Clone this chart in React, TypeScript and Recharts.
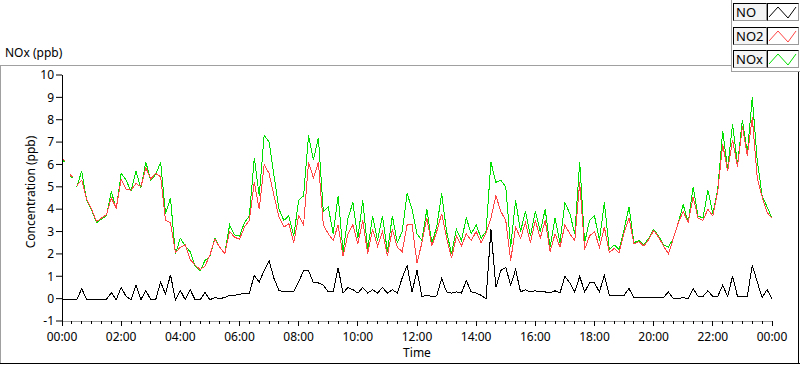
import React from "react";
import { LineChart, Line, XAxis, YAxis } from "recharts";

// time of each sample, minutes after midnight (null rows mark gaps in the record)
const minutes = [
  0, 7, 10, 16, 21, 24,
  30, 40, 50, 60, 70, 80, 90,
  100, 110, 120, 130, 140, 150, 160, 170, 180, 190,
  200, 210, 220, 230, 240, 250, 260, 270, 280, 290,
  300, 310, 320, 330, 340, 350, 360, 370, 380, 390,
  400, 410, 420, 430, 440, 450, 460, 470, 480, 490,
  500, 510, 520, 530, 540, 550, 560, 570, 580, 590,
  600, 610, 620, 630, 640, 650, 660, 670, 680, 690,
  700, 710, 720, 730, 740, 750, 760, 770, 780, 790,
  800, 810, 820, 830, 840, 850, 860, 870, 880, 890,
  900, 910, 920, 930, 940, 950, 960, 970, 980, 990,
  1000, 1010, 1020, 1030, 1040, 1050, 1060, 1070, 1080, 1090,
  1100, 1110, 1120, 1130, 1140, 1150, 1160, 1170, 1180, 1190,
  1200, 1210, 1220, 1230, 1240, 1250, 1260, 1270, 1280, 1290,
  1300, 1310, 1320, 1330, 1340, 1350, 1360, 1370, 1380, 1390,
  1400, 1410, 1420, 1430, 1440,
];

const noxValues: (number | null)[] = [
  6.2, 6.1, null, 5.5, 5.4, null,
  5.0, 5.7, 4.4, 3.95, 3.4, 3.55, 3.7,
  4.8, 4.0, 5.6, 5.3, 4.8, 5.7, 4.95, 6.1, 5.3, 5.55,
  6.1, 3.8, 4.5, 2.0, 2.7, 2.35, 2.1, 1.45, 1.25, 1.7,
  1.9, 2.7, 2.3, 2.0, 3.3, 2.85, 2.8, 3.4, 3.7, 6.3,
  4.6, 7.3, 7.0, 5.5, 4.0, 3.5, 3.7, 2.8, 4.4, 4.6,
  7.3, 6.2, 7.2, 3.9, 4.1, 2.9, 4.6, 2.1, 3.6, 4.3,
  2.7, 4.4, 2.2, 3.7, 2.6, 3.7, 2.1, 3.7, 2.5, 3.0,
  4.7, 4.0, 2.9, 2.6, 4.0, 2.5, 3.2, 4.7, 3.0, 2.0,
  3.1, 2.6, 3.6, 2.9, 3.3, 2.7, 3.0, 6.1, 5.2, 5.3,
  5.0, 2.3, 4.4, 3.0, 3.9, 2.8, 3.9, 3.0, 4.0, 2.3,
  3.6, 2.5, 4.3, 3.8, 2.9, 6.1, 2.5, 3.5, 3.7, 2.6,
  4.3, 2.2, 2.4, 2.2, 3.1, 4.1, 2.5, 2.6, 2.4, 2.7,
  3.1, 2.8, 2.4, 2.3, 2.7, 3.4, 4.2, 3.4, 5.0, 3.7,
  3.6, 4.85, 3.8, 4.9, 7.5, 5.8, 7.8, 6.0, 8.0, 6.5,
  9.0, 6.2, 4.6, 4.1, 3.6,
];

const no2Values: (number | null)[] = [
  6.25, 6.15, null, 5.55, 5.45, null,
  5.05, 5.3, 4.45, 4.0, 3.45, 3.6, 3.75,
  4.5, 4.05, 5.35, 4.9, 4.85, 5.15, 5.0, 5.85, 5.35, 5.6,
  5.45, 3.5, 3.4, 2.05, 2.3, 2.4, 1.75, 1.5, 1.3, 1.45,
  1.95, 2.65, 2.3, 2.0, 3.0, 2.75, 2.65, 3.2, 3.5, 5.2,
  4.0, 6.0, 5.6, 4.6, 3.65, 3.2, 3.35, 2.5, 3.7, 3.3,
  6.1, 5.4, 6.1, 3.3, 2.9, 2.6, 3.3, 1.9, 2.9, 3.3,
  2.45, 3.5, 2.0, 3.1, 2.35, 3.0, 1.9, 3.1, 2.3, 2.1,
  3.3, 3.3, 1.6, 2.5, 3.6, 2.35, 3.0, 3.8, 2.7, 1.8,
  2.8, 2.35, 2.9, 2.6, 3.0, 2.5, 2.95, 3.6, 4.6, 3.9,
  3.5, 1.7, 3.2, 2.7, 3.4, 2.5, 3.5, 2.7, 3.5, 2.1,
  2.9, 2.3, 3.3, 2.9, 2.6, 5.2, 2.2, 2.8, 3.0, 2.3,
  3.2, 2.05, 2.25, 2.05, 2.95, 3.6, 2.45, 2.55, 2.35, 2.65,
  3.05, 2.75, 2.35, 2.0, 2.7, 3.4, 3.9, 3.4, 4.55, 3.6,
  3.5, 4.0, 3.7, 4.8, 6.9, 5.7, 7.1, 5.9, 7.7, 6.4,
  8.1, 5.4, 4.55, 3.85, 3.6,
];

const noValues: (number | null)[] = [
  -0.05, -0.05, -0.05, -0.05, -0.05, -0.05,
  -0.05, 0.45, -0.05, -0.05, -0.05, -0.05, -0.03,
  0.27, -0.05, 0.5, 0.1, -0.05, 0.6, -0.05, 0.37, -0.05, -0.05,
  0.74, 0.2, 1.07, -0.05, 0.37, -0.05, 0.4, -0.05, -0.05, 0.27,
  -0.05, 0.05, 0.0, 0.05, 0.15, 0.15, 0.2, 0.22, 0.25, 1.04,
  0.74, 1.26, 1.7, 0.9, 0.37, 0.3, 0.3, 0.3, 0.74, 1.26,
  1.26, 0.7, 0.7, 0.6, 0.3, 0.3, 1.38, 0.25, 0.5, 0.4,
  0.25, 0.5, 0.25, 0.4, 0.25, 0.5, 0.25, 0.4, 0.25, 0.93,
  1.48, 0.3, 1.26, 0.1, 0.15, 0.1, 0.12, 0.9, 0.3, 0.25,
  0.3, 0.25, 0.8, 0.3, 0.25, 0.15, 0.0, 3.1, 0.5, 1.26,
  1.4, 0.6, 1.3, 0.3, 0.4, 0.3, 0.35, 0.3, 0.3, 0.25,
  0.35, 0.25, 1.0, 0.7, 0.3, 1.0, 0.3, 0.7, 0.7, 0.3,
  1.05, 0.15, 0.15, 0.15, 0.15, 0.45, 0.05, 0.05, 0.05, 0.05,
  0.05, 0.05, 0.05, 0.3, 0.0, 0.0, 0.05, 0.0, 0.45, 0.1,
  0.1, 0.35, 0.1, 0.1, 0.6, 0.1, 1.0, 0.1, 0.1, 0.1,
  1.5, 0.75, 0.05, 0.4, 0.0,
];

const yTicks = [-1, 0, 1, 2, 3, 4, 5, 6, 7, 8, 9, 10];
const seriesNames = ["NO", "NO2", "NOx"];
const seriesColors = ["#000000", "#ff4444", "#00e000"];

const minorTicks: number[] = [];
for (let m = 0; m <= 1440; m += 20) minorTicks.push(m);

const data = minutes.map((t, i) => ({
  t,
  nox: noxValues[i],
  no2: no2Values[i],
  no: noValues[i],
}));

const FONT = "'Noto Sans', 'Open Sans', sans-serif";

const fmt = (v: number) => {
  const h = Math.floor(v / 60) % 24;
  const m = v % 60;
  return `${String(h).padStart(2, "0")}:${String(m).padStart(2, "0")}`;
};

const XTick = (props: any) => {
  const { x, y, payload } = props;
  const v = payload.value as number;
  const major = v % 120 === 0;
  return (
    <g>
      <line x1={x} x2={x} y1={y} y2={y + (major ? 5 : 3)} stroke="#000" strokeWidth={1} shapeRendering="crispEdges" />
      {major && (
        <text x={x} y={y + 20} textAnchor="middle" fontSize={12} fill="#000" fontFamily={FONT}>
          {fmt(v)}
        </text>
      )}
    </g>
  );
};

const line = (left: number, top: number, width: number, height: number, color: string) => (
  <div style={{ position: "absolute", left, top, width, height, background: color }} />
);

const LegendRow = ({ i }: { i: number }) => {
  const top = 3 + i * 23.5;
  return (
    <>
      <div
        style={{
          position: "absolute",
          left: 733,
          top,
          width: 30,
          height: 16,
          background: "#f4f4f4",
          borderTop: "1px solid #000",
          borderLeft: "1px solid #000",
          borderRight: "1px solid #9a9a9a",
          borderBottom: "1px solid #9a9a9a",
          fontFamily: FONT,
          fontSize: 13,
          lineHeight: "16px",
          paddingLeft: 2,
          boxSizing: "content-box",
          color: "#000",
        }}
      >
        {seriesNames[i]}
      </div>
      <div
        style={{
          position: "absolute",
          left: 767,
          top,
          width: 30,
          height: 16,
          background: "#fff",
          borderTop: "1px solid #000",
          borderLeft: "1px solid #000",
          borderRight: "1px solid #9a9a9a",
          borderBottom: "1px solid #9a9a9a",
        }}
      >
        <svg width={30} height={16} style={{ display: "block" }}>
          <polyline points="1,13 10,3 20,14 28,3" fill="none" stroke={seriesColors[i]} strokeWidth={1} />
        </svg>
      </div>
    </>
  );
};

export default function App() {
  return (
    <div style={{ position: "fixed", left: 0, top: 0, width: 800, height: 365, background: "#fff", overflow: "hidden" }}>
      {line(0, 65, 731, 1, "#a0a0a0")}
      {line(0, 65, 1, 298, "#a0a0a0")}
      {line(0, 363, 800, 1, "#000")}
      {line(798, 72, 1, 291, "#000")}
      {line(731, 0, 1, 72, "#a0a0a0")}
      {line(731, 71, 69, 1, "#a0a0a0")}
      <div style={{ position: "absolute", left: 5, top: 44, fontFamily: FONT, fontSize: 12, color: "#000", whiteSpace: "nowrap" }}>
        NOx (ppb)
      </div>
      {[0, 1, 2].map((i) => (
        <LegendRow key={i} i={i} />
      ))}
      <div style={{ position: "absolute", left: 0, top: 0 }}>
        <LineChart width={800} height={365} data={data} margin={{ top: 75, right: 28, bottom: 0, left: 0 }}>
          <XAxis
            dataKey="t"
            type="number"
            domain={[0, 1440]}
            ticks={minorTicks}
            interval={0}
            height={44}
            tickSize={0}
            tickMargin={0}
            tickLine={false}
            tick={<XTick />}
            axisLine={{ stroke: "#a0a0a0", shapeRendering: "crispEdges" }}
            allowDataOverflow
            label={{ value: "Time", position: "insideBottom", offset: 8, fontSize: 12, fill: "#000", fontFamily: FONT }}
          />
          <XAxis
            xAxisId="top"
            dataKey="t"
            type="number"
            domain={[0, 1440]}
            orientation="top"
            height={0}
            tick={false}
            tickLine={false}
            axisLine={{ stroke: "#000", shapeRendering: "crispEdges" }}
          />
          <YAxis
            type="number"
            domain={[-1, 10]}
            ticks={yTicks}
            interval={0}
            width={62}
            tickSize={6}
            tickMargin={2}
            tickLine={{ stroke: "#000" }}
            axisLine={{ stroke: "#000", shapeRendering: "crispEdges" }}
            tick={{ fontSize: 12, fill: "#000", fontFamily: FONT }}
            allowDataOverflow
            label={{ value: "Concentration (ppb)", angle: -90, position: "center", dy: -6, fontSize: 12, fill: "#000", fontFamily: FONT }}
          />
          <YAxis
            yAxisId="right"
            orientation="right"
            type="number"
            domain={[-1, 10]}
            width={0}
            tick={false}
            tickLine={false}
            axisLine={{ stroke: "#a0a0a0", shapeRendering: "crispEdges" }}
          />
          <Line dataKey="nox" stroke="#00e000" strokeWidth={1} dot={false} isAnimationActive={false} connectNulls={false} shapeRendering="crispEdges" />
          <Line dataKey="no2" stroke="#ff4444" strokeWidth={1} dot={false} isAnimationActive={false} connectNulls={false} shapeRendering="crispEdges" />
          <Line dataKey="no" stroke="#000000" strokeWidth={1} dot={false} isAnimationActive={false} connectNulls={false} shapeRendering="crispEdges" />
        </LineChart>
      </div>
    </div>
  );
}
